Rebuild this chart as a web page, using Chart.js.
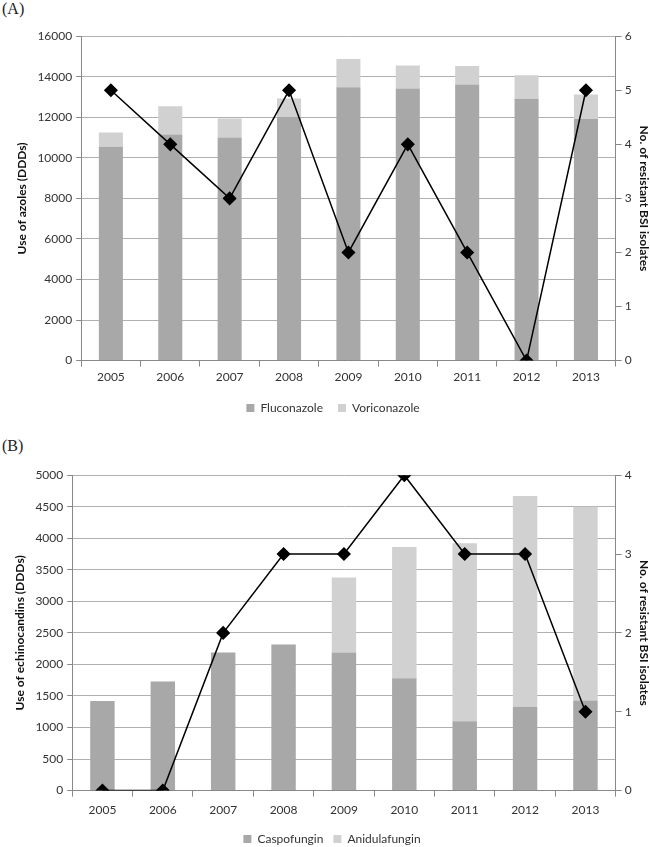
<!DOCTYPE html>
<html>
<head>
<meta charset="utf-8">
<script src="https://cdn.jsdelivr.net/npm/chart.js@4/dist/chart.umd.min.js"></script>
<style>
  body { margin: 0; background: #fff; width: 650px; height: 847px; position: relative; overflow: hidden; }
  .panel-label { position: absolute; left: 2px; font-family: "Liberation Serif", serif; font-size: 16px; color: #222; }
  .box { position: absolute; left: 0; width: 650px; }
</style>
</head>
<body>
<div class="panel-label" style="top:0px">(A)</div>
<div class="box" style="top:25px;height:399px"><canvas id="chartA"></canvas></div>
<div class="panel-label" style="top:437px">(B)</div>
<div class="box" style="top:464px;height:391px"><canvas id="chartB"></canvas></div>
<script>
// Data
const years = ['2005', '2006', '2007', '2008', '2009', '2010', '2011', '2012', '2013'];

// (A) azoles, DDDs
const fluconazole = [10550, 11150, 11000, 12030, 13480, 13420, 13620, 12920, 11920];
const voriconazole = [700, 1400, 940, 900, 1400, 1140, 910, 1150, 1210];
const resistantA = [5, 4, 3, 5, 2, 4, 2, 0, 5];

// (B) echinocandins, DDDs
const caspofungin = [1420, 1730, 2190, 2310, 2190, 1780, 1100, 1330, 1430];
const anidulafungin = [0, 0, 0, 15, 1190, 2080, 2820, 3340, 3070];
const resistantB = [0, 0, 2, 3, 3, 4, 3, 3, 1];

const darkGray = '#a8a8a8';
const lightGray = '#d1d1d1';
const gridGray = '#b0b0b0';
const fontFam = 'Lato, "Open Sans", sans-serif';

function makeChart(id, opts) {
    const ctx = document.getElementById(id).getContext('2d');
    return new Chart(ctx, {
        data: {
            labels: years,
            datasets: [
                {
                    type: 'bar', label: opts.names[0], data: opts.bottom,
                    backgroundColor: darkGray, yAxisID: 'y', order: 2,
                    barPercentage: 0.405, categoryPercentage: 1
                },
                {
                    type: 'bar', label: opts.names[1], data: opts.top,
                    backgroundColor: lightGray, yAxisID: 'y', order: 2,
                    barPercentage: 0.405, categoryPercentage: 1
                },
                {
                    type: 'line', label: 'Resistant isolates', data: opts.line,
                    borderColor: '#000', borderWidth: 1.5, backgroundColor: '#000',
                    pointStyle: 'rectRot', pointRadius: 6, pointHoverRadius: 6,
                    yAxisID: 'y1', order: 0, tension: 0
                }
            ]
        },
        options: {
            responsive: true,
            maintainAspectRatio: false,
            animation: false,
            layout: { padding: opts.padding },
            plugins: {
                tooltip: { enabled: false },
                legend: {
                    position: 'bottom',
                    labels: {
                        filter: item => item.datasetIndex < 2,
                        boxWidth: 8, boxHeight: 8, padding: opts.legendPad,
                        color: '#333', font: { family: fontFam, size: 12 }
                    }
                }
            },
            scales: {
                x: {
                    stacked: true,
                    grid: { offset: true, drawOnChartArea: false, drawTicks: true, tickLength: 6, color: '#888' },
                    border: { color: '#888' },
                    ticks: { color: '#333', font: { family: fontFam, size: 12 }, padding: opts.xPad }
                },
                y: {
                    stacked: true,
                    min: 0, max: opts.yMax,
                    ticks: {
                        stepSize: opts.yStep, color: '#333', font: { family: fontFam, size: 12 }, padding: 4,
                        callback: v => String(v)
                    },
                    grid: { color: gridGray, tickLength: 5, tickColor: '#888' },
                    border: { color: '#888' },
                    title: { display: true, text: opts.yTitle, color: '#111', padding: { top: 2, bottom: 4 }, font: { family: fontFam, size: 12, weight: 'bold' } }
                },
                y1: {
                    position: 'right',
                    stacked: false,
                    min: 0, max: opts.y1Max,
                    ticks: { stepSize: 1, color: '#333', font: { family: fontFam, size: 12 }, padding: 3 },
                    grid: { drawOnChartArea: false, tickLength: 6, color: '#888' },
                    border: { color: '#888' },
                    title: { display: true, text: 'No. of resistant BSI isolates', color: '#111', padding: { top: 2, bottom: 2 }, font: { family: fontFam, size: 12, weight: 'bold' } }
                }
            }
        }
    });
}

makeChart('chartA', {
    names: ['Fluconazole', 'Voriconazole'],
    bottom: fluconazole, top: voriconazole, line: resistantA,
    yMax: 16000, yStep: 2000, y1Max: 6,
    yTitle: 'Use of azoles (DDDs)',
    legendPad: 15, xPad: 3,
    padding: { left: 13, right: -3, top: 0, bottom: 0 }
});

makeChart('chartB', {
    names: ['Caspofungin', 'Anidulafungin'],
    bottom: caspofungin, top: anidulafungin, line: resistantB,
    yMax: 5000, yStep: 500, y1Max: 4,
    yTitle: 'Use of echinocandins (DDDs)',
    legendPad: 10, xPad: 6,
    padding: { left: 11, right: -3, top: 0, bottom: 0 }
});
</script>
</body>
</html>
